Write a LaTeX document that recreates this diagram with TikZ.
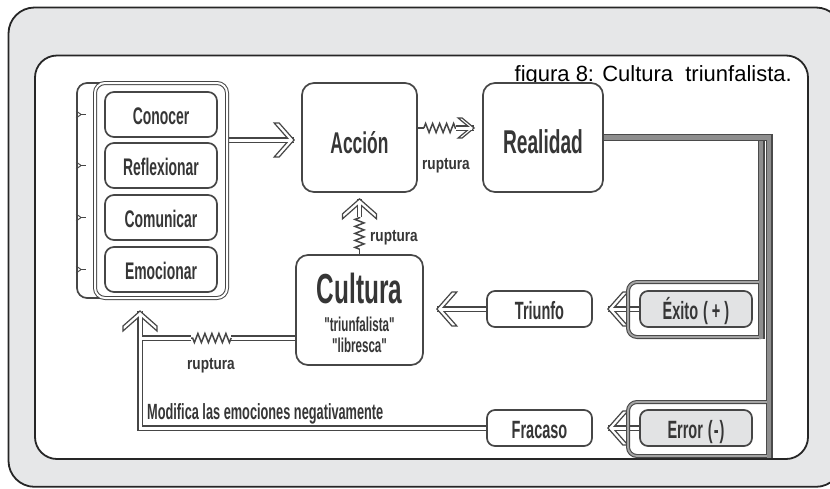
\documentclass[tikz,border=0pt]{standalone}
\usepackage{fontspec}
\setmainfont{Liberation Sans}
\newfontfamily\cnd[FakeStretch=0.58]{Liberation Sans}
\newfontfamily\cndw[FakeStretch=0.8]{Liberation Sans}
\usetikzlibrary{calc,decorations.pathmorphing}
\pgfdeclarelayer{back}
\pgfdeclarelayer{bg}
\pgfsetlayers{back,bg,main}

\definecolor{paper}{HTML}{E6E7E8}
\definecolor{ink}{HTML}{363636}
\definecolor{edge}{HTML}{464646}
\definecolor{tint}{HTML}{E2E3E4}
\definecolor{railcore}{HTML}{8E8E8E}
\definecolor{railedge}{HTML}{4A4A4A}
\definecolor{brcore}{HTML}{A4A4A4}

\newcommand\fsz[1]{\fontsize{#1}{#1}\selectfont}

% hollow chevron head: tip at the origin, arms towards +x
% #1 length, #2 half height, #3 arm thickness
\newcommand\openhead[3]{%
  \filldraw[fill=white,draw=edge,line width=1.2pt,line join=miter,miter limit=20]
    (0,0) -- (#1,-#2) -- (#1+#3,-#2) -- (#3,0) -- (#1+#3,#2) -- (#1,#2) -- cycle;
  \draw[white,line width=3pt] (#3*0.6,0) -- (#1*0.5+#3,0);
}

\tikzset{
  bighead/.pic={\openhead{15}{17}{5}},
  smallhead/.pic={\openhead{12}{10}{4}},
  box/.style={draw=edge,line width=1.7pt,rounded corners=9pt,fill=white,
    inner sep=0pt,text=ink},
  item/.style={box,minimum width=112pt,minimum height=45pt,
    font=\cnd\bfseries\fsz{24},text height=20pt,text depth=0pt},
  big/.style={box,rounded corners=12pt},
  tag/.style={box,rounded corners=8pt,minimum width=105pt,minimum height=36pt,
    font=\cnd\bfseries\fsz{25},text height=20pt,text depth=0pt},
  shade/.style={tag,fill=tint,minimum width=112pt},
  dline/.style={draw=edge,line width=1.2pt,double=white,double distance=3pt},
  dk/.style={draw=edge,line width=5.4pt},
  wcore/.style={draw=white,line width=3pt},
  gk/.style={draw=railedge,line width=7pt},
  gcore/.style={draw=railcore,line width=4.4pt},
  bk/.style={draw=railedge,line width=4pt,rounded corners=9pt},
  bcore/.style={draw=brcore,line width=1.8pt,rounded corners=9pt},
  zl/.style={draw=edge,line width=1.5pt},
  zz/.style={zl,decorate,decoration={zigzag,amplitude=4.5pt,segment length=7pt}},
  note/.style={font=\cndw\bfseries\fsz{17},text=ink,inner sep=0pt},
  tab/.style={draw=edge,line width=0.9pt},
}

\begin{document}
\begin{tikzpicture}[x=1pt,y=-1pt]
\useasboundingbox (0,0) rectangle (830,488);

% frames
\begin{pgfonlayer}{back}
  \begin{scope}
    \clip (0,0) rectangle (830,488);
    \draw[line width=1.8pt,draw=black!85,fill=paper,rounded corners=26pt]
      (8.5,7.5) rectangle (842,486.8);
    \draw[line width=1.8pt,draw=black!85,fill=white,rounded corners=22pt]
      (35,55.5) rectangle (808,459);
  \end{scope}
\end{pgfonlayer}

\node[font=\fsz{22},anchor=base east,inner sep=0pt] (cap) at (792,81)
  {figura 8: Cultura~ triunfalista.};

% stacked panel of faculties
\node[box,rounded corners=10pt,minimum width=123pt,minimum height=215pt]
  (back) at (138.5,190.5) {};
\node[box,double=white,double distance=2pt,line width=1pt,rounded corners=10pt,
  minimum width=132pt,minimum height=215pt] (front) at (161,190.5) {};
\node[item] (con) at (161,114.5) {Conocer};
\node[item] (ref) at (161,165.5) {Reflexionar};
\node[item] (com) at (161,217.5) {Comunicar};
\node[item] (emo) at (161,269.5) {Emocionar};
\foreach \it in {con,ref,com,emo}{
  \draw[tab] (back.west |- \it.west) ++(0,-3.5) -- ++(5,3.5) -- ++(-5,3.5);
  \draw[tab] (back.west |- \it.west) ++(5,0) -- ++(5,0);
}

% main boxes
\node[big,minimum width=115pt,minimum height=109pt,
  font=\cnd\bfseries\fsz{30},text height=31pt,text depth=0pt]
  (acc) at (359.5,137.5) {Acción};
\node[big,minimum width=120pt,minimum height=109pt,
  font=\cnd\bfseries\fsz{33},text height=31pt,text depth=0pt]
  (real) at (543,137.5) {Realidad};
\node[big,minimum width=127pt,minimum height=110pt] (cul) at (359.5,310) {};
\node[font=\cnd\bfseries\fsz{42},text=ink,anchor=base,inner sep=0pt]
  (cult) at (359.5,303) {Cultura};
\node[font=\cnd\bfseries\fontsize{20}{20.5}\selectfont,text=ink,align=center,
  anchor=north,inner sep=0pt] (csub) at (359.5,317)
  {"triunfalista"\\"libresca"};

% outcome tags
\node[tag] (tri) at (539.5,309) {Triunfo};
\node[shade] (exi) at (696,309) {Éxito\hspace{5pt}(\hspace{4pt}+\hspace{4pt})};
\node[tag] (fra) at (539.5,428) {Fracaso};
\node[shade] (err) at (696,428) {Error\hspace{5pt}(\hspace{1pt}-\hspace{1pt})};

% labels
\node[note,anchor=base] (rp1) at (446,169) {ruptura};
\node[note,anchor=base west] (rp2) at (370,241) {ruptura};
\node[note,anchor=base] (rp3) at (211,369) {ruptura};
\node[font=\cnd\bfseries\fsz{22},text=ink,anchor=base west,inner sep=0pt]
  (mod) at (147,419) {Modifica las emociones negativamente};

\begin{pgfonlayer}{bg}
  % panel to action
  \coordinate (a0) at ($(front.east |- acc.west)+(0,2.5)$);
  \coordinate (a1) at ($(acc.west)+(-7,2.5)$);
  \draw[dline] (a0) -- (a1);
  \pic[rotate=180] at (a1) {bighead};

  % action to reality, broken
  \coordinate (r1a) at ($(acc.east)+(0,-9.5)$);
  \coordinate (r1b) at ($(r1a)+(6,0)$);
  \coordinate (r1c) at ($(r1a)+(38,0)$);
  \coordinate (r1t) at ($(real.west |- r1a)+(-8,0)$);
  \draw[zl] (r1a) -- (r1b);
  \draw[zz] (r1b) -- (r1c);
  \draw[dline] (r1c) -- (r1t);
  \pic[rotate=180] at (r1t) {smallhead};

  % culture to action, broken
  \coordinate (v1) at ($(cul.north)+(0,-5)$);
  \coordinate (v2) at ($(cul.north)+(0,-37)$);
  \coordinate (vt) at ($(acc.south)+(0,6)$);
  \draw[zl] (cul.north) -- (v1);
  \draw[zz] (v1) -- (v2);
  \draw[dline] (v2) -- (vt);
  \pic[rotate=-90] at (vt) {bighead};

  % outcomes
  \coordinate (t1) at ($(cul.east |- tri.west)+(13,0)$);
  \draw[dline] (tri.west) -- (t1);
  \pic at (t1) {bighead};
  \coordinate (t2) at ($(tri.east)+(15,0)$);
  \draw[dline] (exi.west) -- (t2);
  \pic at (t2) {bighead};
  \coordinate (t3) at ($(fra.east)+(15,0)$);
  \draw[dline] (err.west) -- (t3);
  \pic at (t3) {bighead};

  % culture and failure back to the panel
  \coordinate (c0) at ($(cul.west)+(0,28)$);
  \coordinate (c1) at ($(c0)+(-64,0)$);
  \coordinate (c2) at ($(c0)+(-104,0)$);
  \coordinate (rtip) at (140,311);
  \coordinate (c3) at (rtip |- c0);
  \coordinate (fc) at (rtip |- fra.west);
  \draw[dline] (c0) -- (c1);
  \draw[zz] (c1) -- (c2);
  \draw[dk] (fra.west) -- (fc) -- (rtip);
  \draw[dk] (c2) -- (c3);
  \draw[wcore] (fra.west) -- (fc) -- (rtip);
  \draw[wcore] (c2) -- (c3);
  \pic[rotate=-90] at (rtip) {bighead};

  % rails from reality to success and error
  \coordinate (rx) at (769,137.5);
  \coordinate (rb) at (769,458);
  \coordinate (ex0) at (761,141);
  \coordinate (exb) at (761,339);
  \coordinate (e1) at (761,337);
  \coordinate (e2) at (628,337);
  \coordinate (e3) at (628,282);
  \coordinate (e4) at (761,282);
  \coordinate (q1) at (769,456);
  \coordinate (q2) at (628,456);
  \coordinate (q3) at (628,402);
  \coordinate (q4) at (769,402);
  \draw[gk] (real.east) -- (rx) -- (rb);
  \draw[gk] (ex0) -- (exb);
  \draw[bk] (e1) -- (e2) -- (e3) -- (e4);
  \draw[bk] (q1) -- (q2) -- (q3) -- (q4);
  \draw[bcore] (e1) -- (e2) -- (e3) -- (e4);
  \draw[bcore] (q1) -- (q2) -- (q3) -- (q4);
  \draw[gcore] (real.east) -- (rx) -- (rb);
  \draw[gcore] (ex0) -- (exb);
\end{pgfonlayer}
\end{tikzpicture}
\end{document}
